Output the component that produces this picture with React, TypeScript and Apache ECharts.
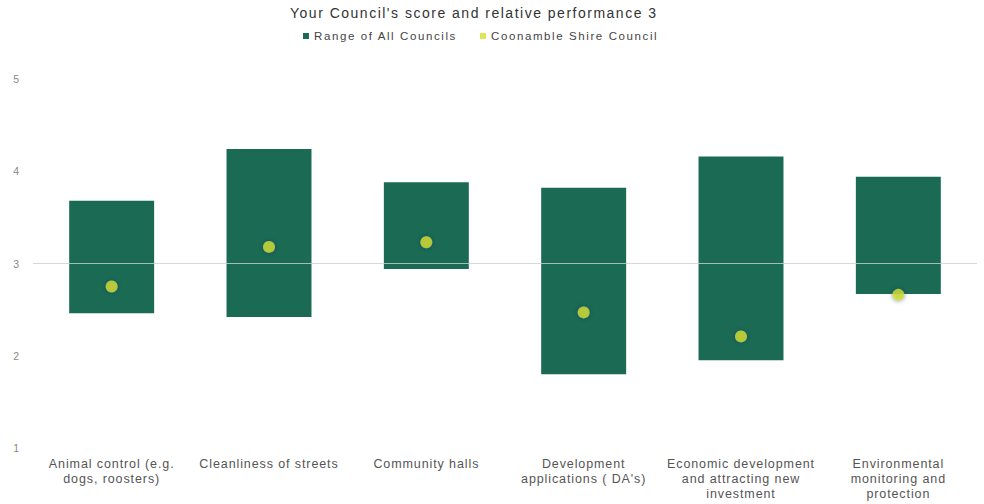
import React, { useEffect, useRef } from "react";
import * as echarts from "echarts";

const categories = [
  "Animal control (e.g.\ndogs, roosters)",
  "Cleanliness of streets",
  "Community halls",
  "Development\napplications ( DA's)",
  "Economic development\nand attracting new\ninvestment",
  "Environmental\nmonitoring and\nprotection",
];
const rangeMin = [2.46, 2.42, 2.94, 1.8, 1.95, 2.67];
const rangeMax = [3.68, 4.24, 3.88, 3.82, 4.16, 3.94];
const councilScore = [2.75, 3.18, 3.23, 2.47, 2.21, 2.66];
const yTicks = [1, 2, 3, 4, 5];

const FONT = "'Liberation Sans', Arial, Helvetica, sans-serif";
const BAR = "#1b6a54";
const DOT = "#d2de2c";

const css = `
#chart text[style*="14px"]{letter-spacing:1.5px}
#chart text[style*="11.5px"]{letter-spacing:1.6px}
#chart text[style*="12.5px"]{letter-spacing:0.9px}
`;

export default function App() {
  const ref = useRef<HTMLDivElement>(null);
  useEffect(() => {
    if (!ref.current) return;
    const chart = echarts.init(ref.current, undefined, { renderer: "svg" });
    chart.setOption({
      animation: false,
      textStyle: { fontFamily: FONT },
      title: {
        text: "Your Council's score and relative performance 3",
        left: 285,
        top: 1,
        textStyle: { fontSize: 14, fontWeight: "normal", color: "#333", fontFamily: FONT },
      },
      legend: [
        {
          left: 298,
          top: 25,
          itemWidth: 6,
          itemHeight: 6,
          icon: "rect",
          textStyle: { fontSize: 11.5, color: "#444", fontFamily: FONT },
          data: [{ name: "Range of All Councils", itemStyle: { color: BAR } }],
        },
        {
          left: 475,
          top: 25,
          itemWidth: 6,
          itemHeight: 6,
          icon: "rect",
          textStyle: { fontSize: 11.5, color: "#444", fontFamily: FONT },
          data: [{ name: "Coonamble Shire Council", itemStyle: { color: DOT } }],
        },
      ],
      grid: { left: 33, right: 7, top: 79, bottom: 56, containLabel: false },
      xAxis: {
        type: "category",
        data: categories,
        axisLine: { show: false },
        axisTick: { show: false },
        axisLabel: {
          interval: 0,
          margin: 8,
          fontSize: 12.5,
          lineHeight: 15,
          color: "#555",
          fontFamily: FONT,
        },
      },
      yAxis: {
        type: "value",
        min: yTicks[0],
        max: yTicks[yTicks.length - 1],
        interval: 1,
        axisLine: { show: false },
        axisTick: { show: false },
        splitLine: { show: false },
        axisLabel: { margin: 14, fontSize: 10.5, color: "#888", fontFamily: FONT },
      },
      series: [
        {
          name: "base",
          type: "bar",
          stack: "range",
          barWidth: "54%",
          data: rangeMin,
          itemStyle: { color: "transparent" },
          silent: true,
          z: 1,
        },
        {
          name: "Range of All Councils",
          type: "bar",
          stack: "range",
          barWidth: "54%",
          data: rangeMax.map((v, i) => +(v - rangeMin[i]).toFixed(3)),
          itemStyle: { color: BAR },
          z: 2,
          markLine: {
            silent: true,
            symbol: ["none", "none"],
            label: { show: false },
            lineStyle: { color: "rgba(200,210,208,0.8)", type: "solid", width: 1 },
            data: [{ yAxis: 3 }],
            z: 5,
          },
        },
        {
          name: "Coonamble Shire Council",
          type: "scatter",
          data: councilScore,
          symbol: "circle",
          symbolSize: 12,
          itemStyle: {
            color: DOT,
            shadowColor: "rgba(0,50,110,0.7)",
            shadowBlur: 4,
          },
          z: 10,
        },
      ],
    });
    return () => chart.dispose();
  }, []);
  return (
    <>
      <style>{css}</style>
      <div
        id="chart"
        ref={ref}
        style={{ position: "absolute", left: 0, top: 0, width: 984, height: 504 }}
      />
    </>
  );
}
